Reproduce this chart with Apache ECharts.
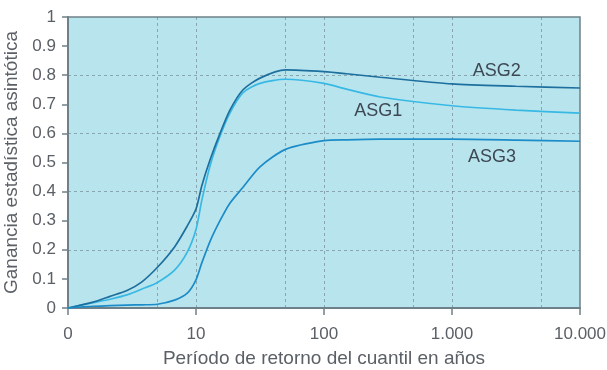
<!DOCTYPE html>
<html>
<head>
<meta charset="utf-8">
<script src="https://cdn.jsdelivr.net/npm/echarts@6/dist/echarts.min.js"></script>
<style>
  html, body { margin: 0; padding: 0; background: #ffffff; }
  #chart { width: 607px; height: 370px; }
</style>
</head>
<body>
<div id="chart"></div>
<script>
// Return periods in years (1 is drawn as the "0" origin of the log axis)
const periods = [1, 1.57, 2.13, 2.89, 3.78, 5, 6.8, 8.5, 10, 11.1, 12.9, 15.4, 18.4, 23.3, 31.6, 50, 100, 150, 275, 1000, 3160, 10000];

// Asymptotic statistical gain for each ASG series
const asg2 = [0, 0.02, 0.04, 0.06, 0.09, 0.14, 0.21, 0.28, 0.34, 0.42, 0.51, 0.60, 0.68, 0.75, 0.79, 0.818, 0.812, 0.805, 0.793, 0.77, 0.762, 0.756];
const asg1 = [0, 0.018, 0.03, 0.045, 0.065, 0.088, 0.13, 0.19, 0.27, 0.37, 0.49, 0.59, 0.67, 0.74, 0.772, 0.786, 0.772, 0.752, 0.725, 0.695, 0.68, 0.67];
const asg3 = [0, 0.006, 0.008, 0.01, 0.011, 0.013, 0.027, 0.05, 0.097, 0.155, 0.23, 0.30, 0.36, 0.415, 0.485, 0.545, 0.575, 0.578, 0.58, 0.58, 0.577, 0.573];

const seriesNames = ['ASG1', 'ASG2', 'ASG3'];
const xGrid = [5, 10, 50, 100, 500, 1000, 5000];
const yGrid = [0.2, 0.4, 0.6, 0.8];

// Label anchors for the series names [period, gain]
const nameAnchors = { ASG1: [265, 0.677], ASG2: [2240, 0.815], ASG3: [2050, 0.52] };

const colors = { ASG1: '#38b9e4', ASG2: '#1d6f9e', ASG3: '#1b8cc8' };
const values = { ASG1: asg1, ASG2: asg2, ASG3: asg3 };

const FONT = 'Liberation Sans, Arial, sans-serif';
const textColor = '#5b6066';
const axisColor = '#6f8088';
const gridStyle = { color: 'rgba(105,125,135,0.6)', type: [3, 3], width: 1 };

function fmtX(v) {
  if (Math.abs(v - 1) < 1e-9) return '0';
  return String(Math.round(v)).replace(/\B(?=(\d{3})+(?!\d))/g, '.');
}

const chart = echarts.init(document.getElementById('chart'), null, { renderer: 'canvas' });

const lineSeries = seriesNames.map(name => ({
  name: name,
  type: 'line',
  data: periods.map((p, i) => [p, values[name][i]]),
  smooth: 0.25,
  showSymbol: false,
  symbol: 'none',
  lineStyle: { color: colors[name], width: 1.7 },
  z: 5,
  markPoint: {
    silent: true,
    symbol: 'circle',
    symbolSize: 0,
    data: [{ coord: nameAnchors[name], value: name }],
    label: {
      show: true,
      position: 'inside',
      formatter: name,
      color: '#3d4852',
      fontSize: 18,
      fontFamily: FONT
    }
  }
}));

// Dashed reference grid
const gridSeries = {
  type: 'line',
  data: [],
  silent: true,
  z: 1,
  markLine: {
    silent: true,
    symbol: 'none',
    label: { show: false },
    lineStyle: gridStyle,
    emphasis: { disabled: true },
    data: xGrid.map(v => ({ xAxis: v })).concat(yGrid.map(v => ({ yAxis: v })))
  }
};

chart.setOption({
  animation: false,
  backgroundColor: '#ffffff',
  grid: {
    left: 68, right: 27, top: 17, bottom: 62,
    outerBoundsMode: 'none',
    containLabel: false,
    show: true,
    backgroundColor: '#b8e4ee',
    borderColor: axisColor,
    borderWidth: 1.5
  },
  xAxis: {
    type: 'log',
    logBase: 10,
    min: 1,
    max: 10000,
    name: 'Período de retorno del cuantil en años',
    nameLocation: 'middle',
    nameGap: 41,
    nameTextStyle: { color: textColor, fontSize: 19, fontFamily: FONT },
    axisLine: { show: true, lineStyle: { color: axisColor, width: 2 } },
    axisTick: { show: true, length: 7, lineStyle: { color: axisColor, width: 1.5 } },
    axisLabel: {
      color: textColor, fontSize: 17, margin: 18,
      fontFamily: FONT,
      formatter: fmtX
    },
    splitLine: { show: false },
    minorTick: { show: false },
    minorSplitLine: { show: false }
  },
  yAxis: {
    type: 'value',
    min: 0,
    max: 1,
    interval: 0.1,
    name: 'Ganancia estadística asintótica',
    nameLocation: 'middle',
    nameGap: 44,
    nameRotate: 90,
    nameTextStyle: { color: textColor, fontSize: 19, fontFamily: FONT },
    axisLine: { show: true, lineStyle: { color: axisColor, width: 2 } },
    axisTick: { show: true, length: 6, lineStyle: { color: axisColor, width: 1.5 } },
    axisLabel: {
      color: textColor, fontSize: 17, margin: 12,
      fontFamily: FONT,
      formatter: v => (Math.abs(v) < 1e-9 ? '0' : Math.abs(v - 1) < 1e-9 ? '1' : v.toFixed(1))
    },
    splitLine: { show: false }
  },
  series: [gridSeries].concat(lineSeries)
});
</script>
</body>
</html>
